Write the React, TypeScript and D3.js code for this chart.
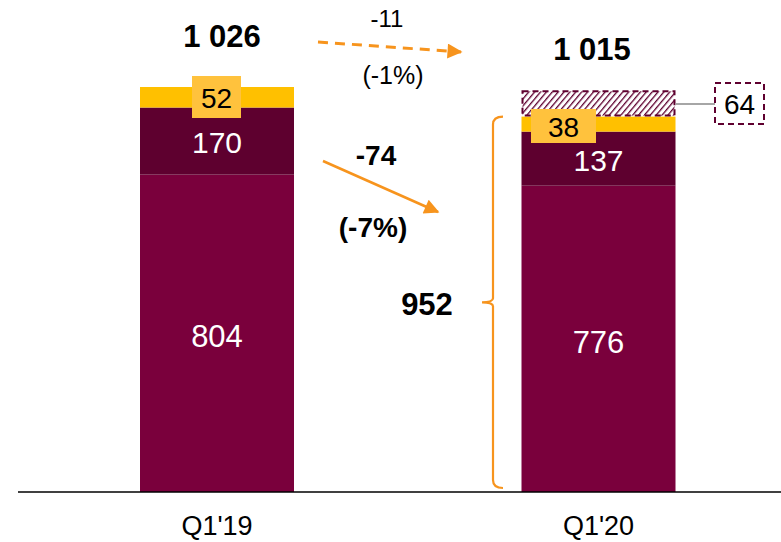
import React from "react";
import * as d3 from "d3";

const categories = ["Q1'19", "Q1'20"];
const baseValues = [804, 776];
const midValues = [170, 137];
const topValues = [52, 38];
const hatchValues = [0, 64];
const totals = ["1 026", "1 015"];
const deltaAll = ["-11", "(-1%)"];
const deltaCore = ["-74", "(-7%)"];
const coreTotal = "952";

const W = 781, H = 542;
const baseY = 492;
const y = d3.scaleLinear().domain([0, 1026]).range([baseY, baseY - 405]);
const x = d3.scalePoint<string>().domain(categories).range([217, 598.5]);
const bw = 154;

const C_BASE = "#7A003C";
const C_MID = "#5E002F";
const C_TOP = "#FFC000";
const C_LBL = "#FFC23D";
const C_ORANGE = "#F7941D";
const FONT = "Liberation Sans, Arial, sans-serif";

export default function App() {
  const bars = categories.map((c, i) => {
    const cx = x(c)!;
    const x0 = cx - bw / 2;
    const b0 = 0, b1 = baseValues[i];
    const m1 = b1 + midValues[i];
    const t1 = m1 + topValues[i];
    const h1 = t1 + hatchValues[i];
    return { c, cx, x0, b0, b1, m1, t1, h1, i };
  });
  const b2 = bars[1];
  const braceX = 493;
  const braceTop = y(b2.t1);
  const braceBot = baseY - 4;
  const braceMid = (braceTop + braceBot) / 2;
  return (
    <div style={{ position: "absolute", left: 0, top: 0 }}>
      <svg width={W} height={H} style={{ display: "block", fontFamily: FONT }}>
        <defs>
          <pattern id="hatch" width="4.5" height="4.5" patternUnits="userSpaceOnUse" patternTransform="rotate(40)">
            <line x1="0" y1="0" x2="0" y2="4.5" stroke={C_MID} strokeWidth="2.6" />
          </pattern>
          <marker id="arr" viewBox="0 0 10 10" refX="9" refY="5" markerWidth="5.5" markerHeight="5" orient="auto">
            <path d="M0,0 L10,5 L0,10 z" fill={C_ORANGE} />
          </marker>
          <marker id="arr2" viewBox="0 0 10 10" refX="9" refY="5" markerWidth="7" markerHeight="6" orient="auto">
            <path d="M0,0 L10,5 L0,10 z" fill={C_ORANGE} />
          </marker>
        </defs>
        <rect width={W} height={H} fill="#fff" />
        {bars.map((b) => (
          <g key={b.c}>
            <rect x={b.x0} width={bw} y={y(b.b1)} height={y(b.b0) - y(b.b1)} fill={C_BASE} />
            <rect x={b.x0} width={bw} y={y(b.m1)} height={y(b.b1) - y(b.m1)} fill={C_MID} />
            <rect x={b.x0} width={bw} y={y(b.t1)} height={y(b.m1) - y(b.t1)} fill={C_TOP} />
            {hatchValues[b.i] > 0 && (
              <rect x={b.x0 + 1} width={bw - 2} y={y(b.h1)} height={y(b.t1) - y(b.h1) - 1}
                fill="url(#hatch)" stroke={C_MID} strokeWidth={2} strokeDasharray="6,4" />
            )}
            <text x={b.cx} y={(y(b.b0) + y(b.b1)) / 2 + 14} textAnchor="middle" fill="#fff" fontSize={31}>{baseValues[b.i]}</text>
            <text x={b.cx} y={(y(b.b1) + y(b.m1)) / 2 + 12} textAnchor="middle" fill="#fff" fontSize={30}>{midValues[b.i]}</text>
          </g>
        ))}
        {/* top labels */}
        <rect x={192} y={76} width={49} height={42} fill={C_LBL} />
        <text x={216.5} y={108} textAnchor="middle" fontSize={28} fill="#000">{topValues[0]}</text>
        <rect x={531} y={109} width={65} height={34} fill={C_LBL} />
        <text x={563.5} y={137} textAnchor="middle" fontSize={28} fill="#000">{topValues[1]}</text>
        {/* hatched label */}
        <line x1={b2.x0 + bw} x2={715} y1={(y(b2.h1) + y(b2.t1)) / 2} y2={(y(b2.h1) + y(b2.t1)) / 2} stroke="#A6A6A6" strokeWidth={2} />
        <rect x={715} y={83} width={49} height={41} fill="#fff" stroke={C_MID} strokeWidth={2} strokeDasharray="6,4" />
        <text x={739.5} y={114} textAnchor="middle" fontSize={28} fill="#000">{hatchValues[1]}</text>
        {/* totals */}
        <text x={222} y={47} textAnchor="middle" fontSize={31} fontWeight="bold">{totals[0]}</text>
        <text x={592} y={60} textAnchor="middle" fontSize={31} fontWeight="bold">{totals[1]}</text>
        {/* dashed arrow */}
        <line x1={318} y1={42} x2={461} y2={52} stroke={C_ORANGE} strokeWidth={3} strokeDasharray="10,7" markerEnd="url(#arr)" />
        <text x={387} y={27} textAnchor="middle" fontSize={24}>{deltaAll[0]}</text>
        <text x={393} y={84} textAnchor="middle" fontSize={25}>{deltaAll[1]}</text>
        {/* solid arrow */}
        <line x1={323} y1={161} x2={438} y2={212} stroke={C_ORANGE} strokeWidth={2.5} markerEnd="url(#arr2)" />
        <text x={376} y={165} textAnchor="middle" fontSize={28} fontWeight="bold">{deltaCore[0]}</text>
        <text x={373} y={237} textAnchor="middle" fontSize={28} fontWeight="bold">{deltaCore[1]}</text>
        {/* brace */}
        <path d={`M${braceX + 10},${braceTop} Q${braceX},${braceTop} ${braceX},${braceTop + 8} L${braceX},${braceMid - 4} Q${braceX},${braceMid} ${braceX - 11},${braceMid} Q${braceX},${braceMid} ${braceX},${braceMid + 4} L${braceX},${braceBot - 8} Q${braceX},${braceBot} ${braceX + 10},${braceBot}`}
          fill="none" stroke={C_ORANGE} strokeWidth={2.2} />
        <text x={427} y={315} textAnchor="middle" fontSize={31} fontWeight="bold">{coreTotal}</text>
        {/* axis */}
        <line x1={18} x2={W} y1={baseY} y2={baseY} stroke="#000" strokeWidth={1.5} />
        {categories.map((c) => (
          <text key={c} x={x(c)!} y={535} textAnchor="middle" fontSize={27}>{c}</text>
        ))}
      </svg>
    </div>
  );
}
